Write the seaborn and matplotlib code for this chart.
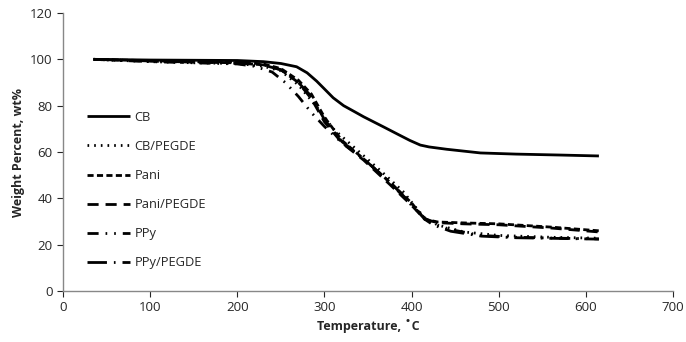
import matplotlib
matplotlib.use("Agg")
import matplotlib.pyplot as plt
import numpy as np
import pandas as pd
import seaborn as sns

# temperature (deg C) / weight percent
cb_t = [35, 100, 150, 200, 230, 250, 268, 280, 291, 300, 310, 322, 335, 345, 368, 385, 398, 410, 420, 440, 479, 520, 570, 615]
cb_w = [100, 99.7, 99.6, 99.5, 99.0, 98.2, 96.8, 94.2, 90.6, 87.2, 83.4, 80.0, 77.3, 75.2, 70.8, 67.5, 65, 63, 62.2, 61.2, 59.6, 59.1, 58.7, 58.3]

cbp_t = [35, 100, 150, 200, 230, 250, 270, 290, 310, 340, 370, 390, 405, 415, 430, 460, 500, 560, 615]
cbp_w = [100, 99.0, 98.5, 98.2, 97.0, 95.0, 89, 80, 70, 60, 50, 43, 36, 31.5, 28.5, 25.5, 24, 23.2, 22.8]

pani_t = [35, 100, 150, 200, 230, 250, 270, 285, 300, 320, 345, 375, 400, 415, 430, 460, 500, 560, 615]
pani_w = [100, 99.4, 99.0, 98.8, 98.0, 96.0, 91, 85, 75, 65, 57, 47, 38, 31, 29.8, 29.4, 29.0, 27.6, 26.0]

panip_t = [35, 100, 150, 200, 230, 250, 270, 285, 300, 320, 345, 375, 400, 415, 430, 460, 500, 560, 615]
panip_w = [100, 99.2, 98.8, 98.5, 97.6, 95.5, 90, 83, 73, 64, 56.5, 46, 37, 31, 29.5, 29.0, 28.6, 27.2, 25.5]

ppy_t = [35, 100, 150, 200, 220, 240, 255, 270, 285, 300, 320, 345, 375, 400, 415, 425, 445, 480, 520, 570, 615]
ppy_w = [100, 99.0, 98.5, 98.0, 97.0, 94.5, 90, 84, 77, 71, 64, 57, 47, 37, 31.5, 29, 26.5, 24, 23.2, 22.8, 22.5]

ppyp_t = [35, 100, 150, 200, 230, 250, 270, 285, 300, 320, 345, 375, 400, 415, 425, 445, 480, 520, 570, 615]
ppyp_w = [100, 99.3, 98.8, 98.5, 97.5, 95.5, 90, 84, 74, 64.5, 57, 47, 37.5, 31, 28.5, 25.8, 23.7, 23.0, 22.7, 22.4]

series = ["CB", "CB/PEGDE", "Pani", "Pani/PEGDE", "PPy", "PPy/PEGDE"]
temps = [cb_t, cbp_t, pani_t, panip_t, ppy_t, ppyp_t]
weights = [cb_w, cbp_w, pani_w, panip_w, ppy_w, ppyp_w]

STYLES = {
    "CB":         (0, ()),
    "CB/PEGDE":   (0, (0.6, 1.8)),
    "Pani":       (0, (2.2, 1.2)),
    "Pani/PEGDE": (0, (4.0, 2.5)),
    "PPy":        (0, (4.0, 2.5, 0.6, 2.5, 0.6, 2.5)),
    "PPy/PEGDE":  (0, (7.0, 2.5, 0.6, 2.5)),
}

sns.set_style("ticks")
plt.rcParams["font.family"] = ["Open Sans", "DejaVu Sans"]

fig = plt.figure(figsize=(6.86, 3.42), dpi=100)
ax = fig.add_axes([0.092, 0.149, 0.889, 0.813])

for name, t, w in zip(series, temps, weights):
    df = pd.DataFrame({"Temperature": t, "Weight": w})
    sns.lineplot(data=df, x="Temperature", y="Weight", ax=ax, color="black",
                 lw=2.0, linestyle=STYLES[name], label=name)

ax.set_xlim(0, 700)
ax.set_ylim(0, 120)
ax.set_xticks(np.arange(0, 701, 100))
ax.set_yticks(np.arange(0, 121, 20))
ax.set_xlabel("Temperature, ˚C", fontsize=9, fontweight="bold", labelpad=3)
ax.set_ylabel("Weight Percent, wt%", fontsize=9, fontweight="bold")
ax.tick_params(labelsize=9.5, colors="#262626", length=4, width=0.8)
for s in ["left", "bottom"]:
    ax.spines[s].set_color("#888888")
    ax.spines[s].set_linewidth(1.0)
sns.despine(ax=ax)

ax.legend(loc="upper left", bbox_to_anchor=(0.03, 0.667), frameon=False,
          fontsize=9.3, handlelength=3.4, handletextpad=0.3, labelspacing=1.25,
          borderaxespad=0)

fig.savefig("out.png", dpi=100)
